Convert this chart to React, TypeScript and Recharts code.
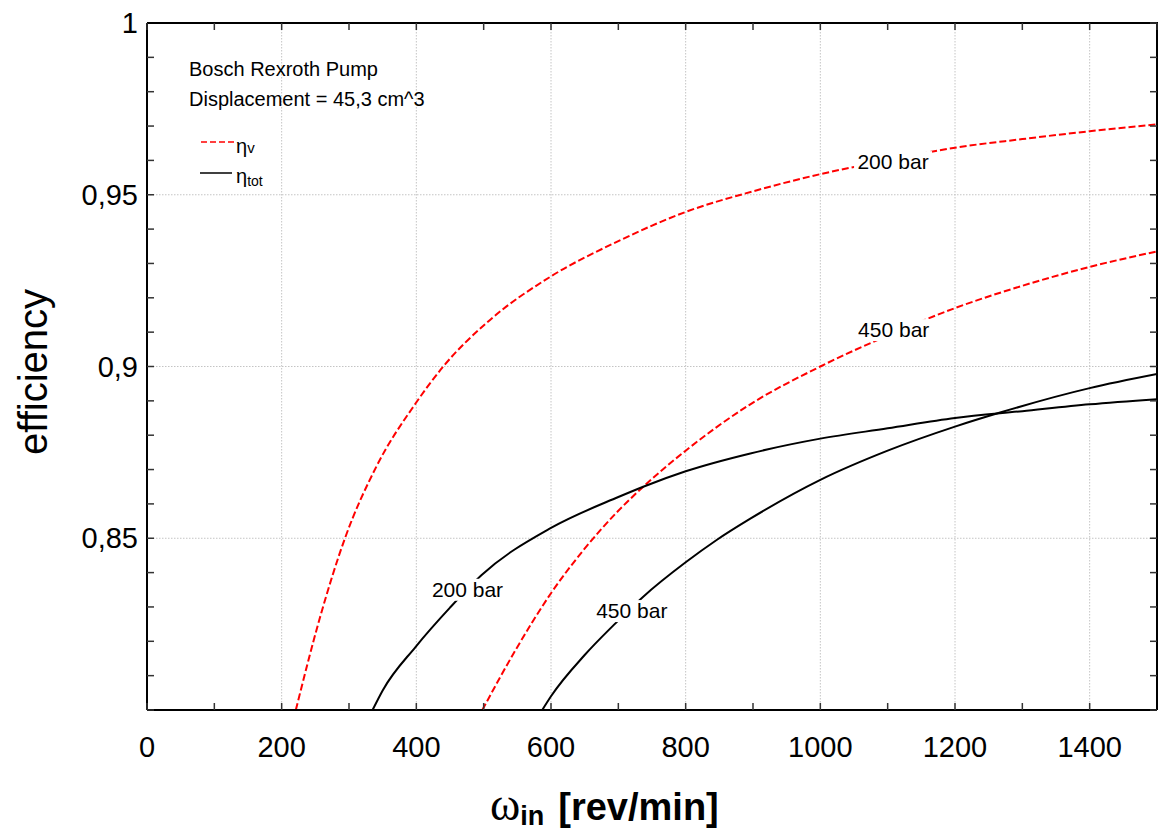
import React from 'react';
import { LineChart, Line, XAxis, YAxis, CartesianGrid, ReferenceDot } from 'recharts';

const FONT = '"Liberation Sans", Arial, sans-serif';

// speed [rev/min] and efficiency
const etaV200W = [221, 257, 294, 341, 398, 440, 509, 598, 700, 800, 900, 1000, 1100, 1200, 1300, 1400, 1500];
const etaV200 = [0.8, 0.827, 0.85, 0.871, 0.889, 0.9, 0.9135, 0.926, 0.9365, 0.945, 0.951, 0.956, 0.96, 0.9637, 0.9662, 0.9685, 0.9705];

const etaV450W = [498, 549, 600, 648, 700, 737, 800, 896, 1000, 1100, 1200, 1300, 1400, 1500];
const etaV450 = [0.8, 0.818, 0.834, 0.8465, 0.858, 0.865, 0.8755, 0.889, 0.9, 0.909, 0.917, 0.9235, 0.929, 0.9335];

const etaTot200W = [335, 350, 399, 450, 497, 600, 700, 737, 800, 896, 1000, 1100, 1200, 1300, 1400, 1500];
const etaTot200 = [0.8, 0.8057, 0.8184, 0.8298, 0.8393, 0.853, 0.862, 0.865, 0.8695, 0.8747, 0.879, 0.882, 0.885, 0.887, 0.889, 0.8905];

const etaTot450W = [587, 600, 650, 693, 737, 800, 846, 896, 1000, 1100, 1200, 1267, 1400, 1500];
const etaTot450 = [0.8, 0.804, 0.816, 0.8247, 0.833, 0.843, 0.8495, 0.8557, 0.867, 0.8755, 0.8825, 0.8866, 0.8937, 0.8978];

// curve labels: [speed, efficiency, text]
const curveLabels: [number, number, string][] = [
  [1108, 0.9595, '200 bar'],
  [1109, 0.9106, '450 bar'],
  [476, 0.835, '200 bar'],
  [720, 0.8288, '450 bar'],
];

const X_MIN = 0;
const X_MAX = 1500;
const Y_MIN = 0.8;
const Y_MAX = 1;
const xTicks = [0, 100, 200, 300, 400, 500, 600, 700, 800, 900, 1000, 1100, 1200, 1300, 1400, 1500];
const xLabelValues = [0, 200, 400, 600, 800, 1000, 1200, 1400];
const yTicks = [
  0.8, 0.81, 0.82, 0.83, 0.84, 0.85, 0.86, 0.87, 0.88, 0.89, 0.9,
  0.91, 0.92, 0.93, 0.94, 0.95, 0.96, 0.97, 0.98, 0.99, 1,
];
const yLabelValues = [0.85, 0.9, 0.95, 1];
const gridX = [200, 400, 600, 800, 1000, 1200, 1400];
const gridY = [0.85, 0.9, 0.95];

// chart box
const W = 1159;
const H = 832;
const M_TOP = 23;
const M_RIGHT = 2;
const Y_AXIS_W = 147;
const X_AXIS_H = 122;
const PLOT_L = Y_AXIS_W;
const PLOT_T = M_TOP;
const PLOT_W = W - Y_AXIS_W - M_RIGHT;
const PLOT_H = H - M_TOP - X_AXIS_H;
const PLOT_R = PLOT_L + PLOT_W;
const PLOT_B = PLOT_T + PLOT_H;

// same linear mapping the chart uses, for the top / right frame ticks
const sx = (v: number) => PLOT_L + ((v - X_MIN) / (X_MAX - X_MIN)) * PLOT_W;
const sy = (v: number) => PLOT_B - ((v - Y_MIN) / (Y_MAX - Y_MIN)) * PLOT_H;

const zip = (w: number[], e: number[]) => w.map((v, i) => ({ w: v, eta: e[i] }));
const fmt = (v: number) => String(v).replace('.', ',');
const has = (arr: number[], v: number) => arr.some((a) => Math.abs(a - v) < 1e-6);

const TICK_LEN = 7;
const TICK_COLOR = '#333';

const BottomTick = (p: any) => {
  const v = p.payload.value;
  return (
    <g>
      <line x1={p.x} y1={p.y} x2={p.x} y2={p.y - TICK_LEN} stroke={TICK_COLOR} strokeWidth={1.5} />
      {has(xLabelValues, v) && (
        <text x={p.x} y={p.y + 47} textAnchor="middle" fontSize={29} fontFamily={FONT} fill="#000">
          {v}
        </text>
      )}
    </g>
  );
};

const LeftTick = (p: any) => {
  const v = p.payload.value;
  return (
    <g>
      <line x1={p.x} y1={p.y} x2={p.x + TICK_LEN} y2={p.y} stroke={TICK_COLOR} strokeWidth={1.5} />
      {has(yLabelValues, v) && (
        <text x={p.x - 9} y={p.y + 10} textAnchor="end" fontSize={29} fontFamily={FONT} fill="#000">
          {fmt(v)}
        </text>
      )}
    </g>
  );
};

const CurveLabel = (text: string) => (p: any) => (
  <g>
    <rect x={p.cx - 39} y={p.cy - 11} width={78} height={22} fill="#fff" />
    <text x={p.cx} y={p.cy + 7} textAnchor="middle" fontSize={21} fontFamily={FONT} fill="#000">
      {text}
    </text>
  </g>
);

const XTitle = (p: any) => {
  const vb = p.viewBox;
  return (
    <text x={vb.x + 343} y={vb.y + 110} fill="#000">
      <tspan fontSize={46} fontFamily='"Liberation Serif", serif'>ω</tspan>
      <tspan fontSize={27} fontWeight="bold" fontFamily={FONT} dy={5}>in</tspan>
      <tspan fontSize={38} fontWeight="bold" fontFamily={FONT} dx={14} dy={-5}>[rev/min]</tspan>
    </text>
  );
};

const YTitle = () => (
  <text
    x={33}
    y={372}
    transform="rotate(-90, 33, 372)"
    textAnchor="middle"
    dominantBaseline="central"
    fontSize={40}
    fontFamily={FONT}
    fill="#000"
  >
    efficiency
  </text>
);

export default function App() {
  return (
    <div style={{ position: 'absolute', left: 0, top: 0, width: W, height: H, background: '#fff' }}>
      <LineChart width={W} height={H} margin={{ top: M_TOP, right: M_RIGHT, left: 0, bottom: 0 }}>
        <CartesianGrid
          verticalValues={gridX}
          horizontalValues={gridY}
          stroke="#c4c4c4"
          strokeDasharray="1.5 1.5"
        />
        <XAxis
          dataKey="w"
          type="number"
          domain={[X_MIN, X_MAX]}
          ticks={xTicks}
          interval={0}
          allowDataOverflow
          height={X_AXIS_H}
          tickSize={0}
          tickMargin={0}
          tickLine={false}
          axisLine={{ stroke: '#000', strokeWidth: 2 }}
          tick={<BottomTick />}
          label={{ content: <XTitle /> }}
        />
        <YAxis
          type="number"
          domain={[Y_MIN, Y_MAX]}
          ticks={yTicks}
          interval={0}
          allowDataOverflow
          width={Y_AXIS_W}
          tickSize={0}
          tickMargin={0}
          tickLine={false}
          axisLine={{ stroke: '#000', strokeWidth: 2 }}
          tick={<LeftTick />}
          label={{ content: <YTitle /> }}
        />
        <Line data={zip(etaV200W, etaV200)} dataKey="eta" stroke="#ff0000" strokeWidth={2} strokeDasharray="7 3" dot={false} type="monotone" isAnimationActive={false} />
        <Line data={zip(etaV450W, etaV450)} dataKey="eta" stroke="#ff0000" strokeWidth={2} strokeDasharray="7 3" dot={false} type="monotone" isAnimationActive={false} />
        <Line data={zip(etaTot200W, etaTot200)} dataKey="eta" stroke="#000" strokeWidth={2} dot={false} type="monotone" isAnimationActive={false} />
        <Line data={zip(etaTot450W, etaTot450)} dataKey="eta" stroke="#000" strokeWidth={2} dot={false} type="monotone" isAnimationActive={false} />
        {curveLabels.map(([w, e, t], i) => (
          <ReferenceDot key={i} x={w} y={e} r={0} shape={CurveLabel(t)} />
        ))}
      </LineChart>
      <svg
        width={W}
        height={H}
        style={{ position: 'absolute', left: 0, top: 0, pointerEvents: 'none' }}
      >
        {/* top and right edges of the frame, with inward ticks */}
        <polyline
          points={`${PLOT_L},${PLOT_T} ${PLOT_R},${PLOT_T} ${PLOT_R},${PLOT_B}`}
          fill="none"
          stroke="#000"
          strokeWidth={2}
        />
        {xTicks.map((t) => (
          <line key={'tx' + t} x1={sx(t)} y1={PLOT_T} x2={sx(t)} y2={PLOT_T + TICK_LEN} stroke={TICK_COLOR} strokeWidth={1.5} />
        ))}
        {yTicks.map((t) => (
          <line key={'ty' + t} x1={PLOT_R} y1={sy(t)} x2={PLOT_R - TICK_LEN} y2={sy(t)} stroke={TICK_COLOR} strokeWidth={1.5} />
        ))}

        <text x={189} y={76} fontSize={20} fontFamily={FONT} fill="#000">Bosch Rexroth Pump</text>
        <text x={189} y={106} fontSize={20} fontFamily={FONT} fill="#000">Displacement = 45,3 cm^3</text>
        <line x1={201} y1={142} x2={235} y2={142} stroke="#ff0000" strokeWidth={1.5} strokeDasharray="6 3" />
        <text x={236} y={153} fontFamily={FONT} fill="#000">
          <tspan fontSize={20}>η</tspan>
          <tspan fontSize={15}>v</tspan>
        </text>
        <line x1={200} y1={173} x2={232} y2={173} stroke="#000" strokeWidth={1.5} />
        <text x={236} y={183} fontFamily={FONT} fill="#000">
          <tspan fontSize={20}>η</tspan>
          <tspan fontSize={14} dy={3}>tot</tspan>
        </text>
      </svg>
    </div>
  );
}
